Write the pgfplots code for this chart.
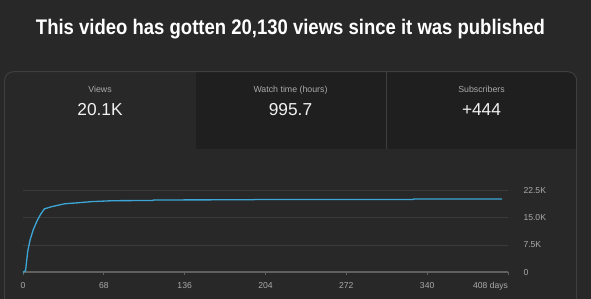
\documentclass[border=0pt]{standalone}
\usepackage{pgfplots}
\pgfplotsset{compat=1.18}
\usepackage{fontspec}
\setmainfont{Liberation Sans}
\definecolor{bg}{HTML}{282828}
\definecolor{tabdark}{HTML}{1F1F1F}
\definecolor{cardborder}{HTML}{3E3E3E}
\definecolor{gridc}{HTML}{3A3A3A}
\definecolor{axisc}{HTML}{606060}
\definecolor{labc}{HTML}{AAAAAA}
\definecolor{valc}{HTML}{F1F1F1}
\definecolor{linec}{HTML}{3EA6D6}
\begin{document}
\begin{tikzpicture}[x=1pt,y=1pt]
\fill[bg] (0,0) rectangle (591,299);
\clip (0,0) rectangle (591,299);
% card
\begin{scope}
\clip[rounded corners=9pt] (4.5,-20) rectangle (576.7,227.3);
\fill[bg] (4.5,-20) rectangle (576.7,227.3);
\fill[tabdark] (195.6,149.5) rectangle (576.7,227.3);
\draw[cardborder, line width=0.8pt] (386,149.5) -- (386,227.3);
\end{scope}
\draw[cardborder, line width=1pt, rounded corners=9pt] (4.5,-20) rectangle (576.7,227.3);
% title
\node[anchor=base, inner sep=0pt, text=white] at (290.5,264.7)
  {\resizebox{509pt}{15.3pt}{\bfseries This video has gotten 20,130 views since it was published}};
% tabs
\node[anchor=base, inner sep=0pt, text=labc, font=\fontsize{8.8}{10}\selectfont] at (100,206.3) {Views};
\node[anchor=base, inner sep=0pt, text=labc, font=\fontsize{8.8}{10}\selectfont] at (290.5,206.3) {Watch time (hours)};
\node[anchor=base, inner sep=0pt, text=labc, font=\fontsize{8.8}{10}\selectfont] at (481.5,206.3) {Subscribers};
\node[anchor=base, inner sep=0pt, text=valc, font=\fontsize{17.3}{20}\selectfont] at (100,183.3) {20.1K};
\node[anchor=base, inner sep=0pt, text=valc, font=\fontsize{17.3}{20}\selectfont] at (290.5,183.3) {995.7};
\node[anchor=base, inner sep=0pt, text=valc, font=\fontsize{17.3}{20}\selectfont] at (481.5,183.3) {+444};
% chart
\begin{axis}[
  at={(23pt,26.7pt)}, anchor=south west,
  scale only axis, width=485pt, height=82pt,
  xmin=0, xmax=408, ymin=0, ymax=22500,
  axis x line*=bottom, axis y line*=right,
  y axis line style={draw=none},
  x axis line style={draw=axisc, line width=1.6pt, -},
  scaled y ticks=false,
  ytick={0,7500,15000,22500},
  yticklabels={0,7.5K,15.0K,22.5K},
  ymajorgrids, grid style={draw=gridc, line width=0.8pt},
  major y tick style={draw=none},
  xtick={0,68,136,204,272,340,408},
  xticklabels={0,68,136,204,272,340,\makebox[0pt][r]{408 days}},
  tick align=outside, major tick length=3pt,
  major x tick style={draw=axisc, line width=0.8pt},
  ticklabel style={font=\fontsize{8.6}{10}\selectfont, text=labc},
  yticklabel style={anchor=west, xshift=9pt},
  xticklabel style={yshift=-3.5pt},
  clip=false,
]
\addplot[linec, line width=1.3pt, line join=round] coordinates {
(0,0) (1,150) (2.2,550) (3.9,5600) (5.9,8800) (8.7,11750) (12.1,14300)
(15,16000) (18,17400) (24,18000) (35,18800) (47,19100) (58,19400)
(76,19650) (109,19700) (110,19850) (194,19900) (195,20000) (328,20000)
(329,20130) (403,20130)
};
\end{axis}
\end{tikzpicture}
\end{document}
